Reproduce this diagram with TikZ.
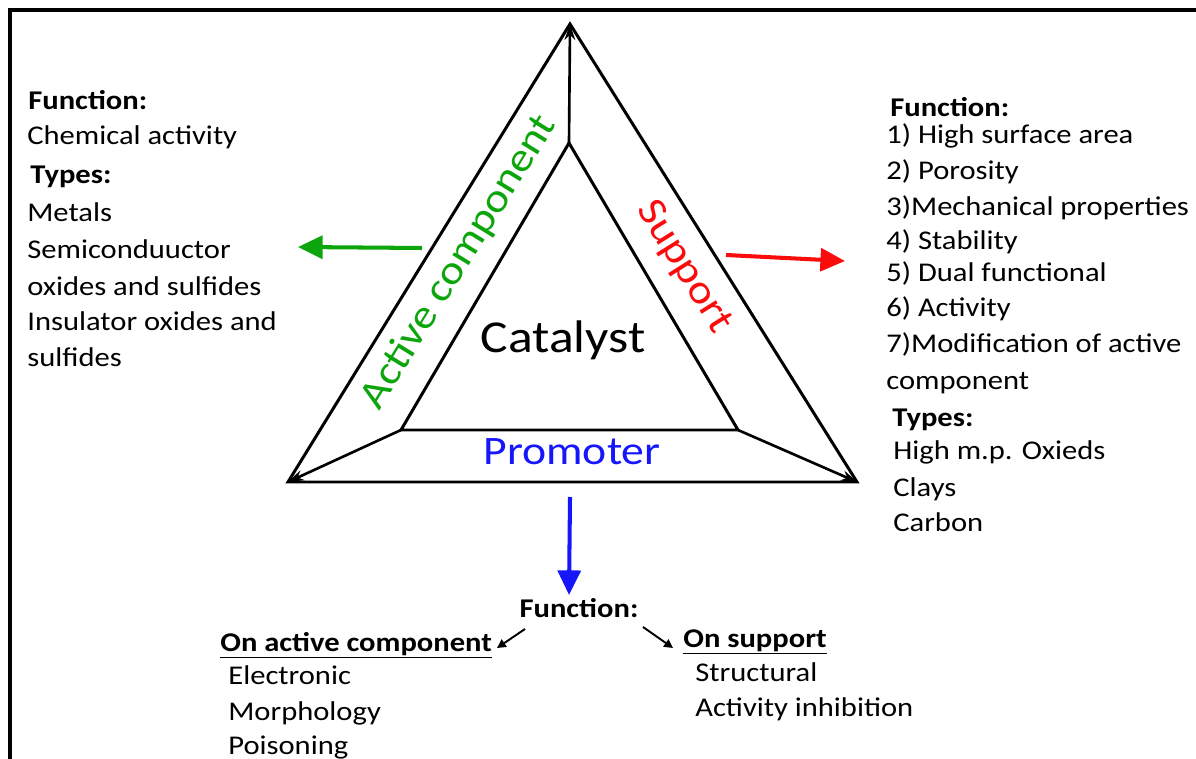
\documentclass[tikz,border=0pt]{standalone}
\usepackage{fontspec}
\setmainfont{Carlito}[FakeStretch=1.13]
\usetikzlibrary{arrows.meta}
\definecolor{actgreen}{RGB}{12,165,12}
\definecolor{supred}{RGB}{250,12,12}
\definecolor{problue}{RGB}{22,22,250}
\tikzset{
    txt/.style={anchor=base west,inner sep=0pt,font=\fontsize{15.4}{18}\selectfont},
    hd/.style={txt,font=\fontsize{15.4}{18}\selectfont\bfseries},
    big/.style={inner sep=0pt,font=\fontsize{23}{26}\selectfont},
    edge/.style={line width=1.7pt,line join=miter},
    corner/.style={line width=1.5pt,-{Stealth[length=9pt,width=6pt]}},
    fat/.style={line width=2.3pt,-{Triangle[length=14pt,width=13pt]}},
    thinarrow/.style={line width=1.1pt,-{Triangle[length=5pt,width=5pt]}},
}
\begin{document}
\begin{tikzpicture}[x=0.02cm,y=-0.02cm]
        \useasboundingbox (0,0) rectangle (1196,759);
        % frame, cut off at right and bottom
        \draw [line width=1.8pt] (10,759) -- (10,10) -- (1196,10);
        % the triangle
        \coordinate (top) at (570,24);
        \coordinate (bl) at (288,482);
        \coordinate (br) at (857,482);
        \coordinate (itop) at (569,143);
        \coordinate (ibl) at (401,430);
        \coordinate (ibr) at (738,430);
        \draw [edge] (top) -- (bl) -- (br) -- cycle;
        \draw [edge] (itop) -- (ibl) -- (ibr) -- cycle;
        \draw [corner] (itop) -- (top);
        \draw [corner] (ibl) -- (bl);
        \draw [corner] (ibr) -- (br);
        \node [inner sep=0pt,anchor=base,font=\fontsize{26}{30}\selectfont] (cat) at (563,353) {Catalyst};
        \node [big,anchor=base,text=problue] (pro) at (572,465) {Promoter};
        \node [big,text=actgreen,rotate=58.3] (act) at (459,262) {Active component};
        \node [big,text=supred,rotate=-57.9] (sup) at (684,267) {Support};
        % left block
        \node [hd] (lf) at (28,110) {Function:};
        \node [hd] (lt) at (30,184) {Types:};
        \foreach[count=\i] \y/\t in {145/Chemical activity,222/Metals,259/Semiconduuctor,296/oxides and sulfides,331/Insulator oxides and,367/sulfides}{
            \node [txt] (l\i) at (27,\y) {\t};
        }
        % right block
        \node [hd] (rf) at (890,117) {Function:};
        \foreach[count=\i] \y/\t in {144/1) High surface area,180/2) Porosity,216/3)Mechanical properties,250/4) Stability,282/5) Dual functional,317/6) Activity,353/7)Modification of active,390/component}{
            \node [txt] (r\i) at (886,\y) {\t};
        }
        \node [hd] (rt) at (892,427) {Types:};
        \foreach[count=\i] \y/\t in {460/High m.p. Oxieds,497/Clays,532/Carbon}{
            \node [txt] (c\i) at (893,\y) {\t};
        }
        % bottom block
        \node [hd,anchor=base] (bf) at (579,617) {Function:};
        \node [hd] (onact) at (220,651) {\underline{On active component}};
        \node [hd] (onsup) at (683,647) {\underline{On support}};
        \foreach[count=\i] \y/\t in {684/Electronic,720/Morphology,754/Poisoning}{
            \node [txt] (a\i) at (228,\y) {\t};
        }
        \foreach[count=\i] \y/\t in {681/Structural,716/Activity inhibition}{
            \node [txt] (s\i) at (695,\y) {\t};
        }
        % arrows
        \coordinate (gs) at (422,248);
        \coordinate (ge) at (298,247);
        \coordinate (rs) at (726,255);
        \coordinate (re) at (845,261);
        \coordinate (bs) at (570,497);
        \coordinate (be) at (569,595);
        \draw [fat,actgreen] (gs) -- (ge);
        \draw [fat,supred] (rs) -- (re);
        \draw [fat,problue] (bs) -- (be);
        \coordinate (ls) at (525,629);
        \coordinate (le) at (497,648);
        \coordinate (ms) at (643,627);
        \coordinate (me) at (673,648);
        \draw [thinarrow] (ls) -- (le);
        \draw [thinarrow] (ms) -- (me);
\end{tikzpicture}
\end{document}
